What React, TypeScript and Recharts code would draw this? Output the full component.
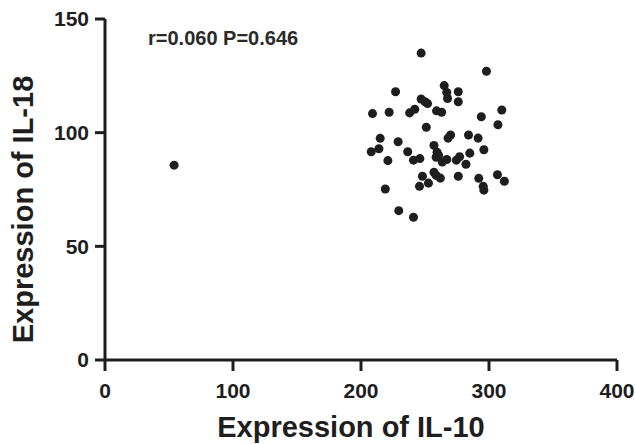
import React from "react";
import { ScatterChart, Scatter, XAxis, YAxis, Label } from "recharts";

const il10 = [
  54, 247, 298, 227, 265, 267, 267.6, 276, 276, 247, 250, 252, 209, 222, 238, 242, 259, 263, 310, 294,
  307, 251, 215, 268, 270, 284, 291.5, 229, 208, 214, 236.5, 257, 259.4, 260.6, 258.7, 296, 285, 221, 241, 246,
  263.5, 267, 274.5, 277, 282, 248, 257, 258.7, 262, 276, 252.7, 245.7, 292, 306.6, 312, 295.5, 296, 219, 229.5, 241,
];
const il18 = [
  85.7, 135, 127, 118, 120.7, 117.7, 115, 118, 113.6, 114.8, 113.6, 112.8, 108.4, 109, 108.7, 110.3, 109.6, 109, 110, 107,
  103.5, 102.4, 97.5, 97.6, 99, 99, 97.6, 96, 91.6, 92.9, 91.6, 94.4, 91.4, 90.1, 89.2, 92.5, 91, 87.7, 87.9, 88.6,
  87.1, 88.2, 87.9, 89.4, 86.1, 80.8, 82.6, 81.2, 80, 80.8, 77.8, 76.4, 79.9, 81.5, 78.6, 76.4, 74.7, 75.2, 65.7, 62.8,
];
const xTicks = [0, 100, 200, 300, 400];
const yTicks = [0, 50, 100, 150];
const statsText = "r=0.060 P=0.646";

const points = il10.map((x, i) => ({ x, y: il18[i] }));

const ink = "#1e1e1e";
const font = "'Liberation Sans', Arial, sans-serif";
const tickStyle = { fill: ink, fontSize: 21, fontWeight: 700, fontFamily: font };
const titleStyle = { fill: ink, fontSize: 29, fontWeight: 700, fontFamily: font };

// rotated y title, baseline sits near the left edge
function YTitle(props: any) {
  const vb = props.viewBox || { x: 0, y: 0, width: 0, height: 0 };
  const x = vb.x + 33;
  const y = vb.y + vb.height / 2 + 20;
  return (
    <text x={x} y={y} transform={`rotate(-90, ${x}, ${y})`} textAnchor="middle" style={titleStyle}>
      Expression of IL-18
    </text>
  );
}

export default function App() {
  return (
    <div style={{ position: "absolute", left: 0, top: 0, width: 635, height: 444, background: "#fff" }}>
      <ScatterChart width={635} height={444} margin={{ top: 19, right: 18, left: 0, bottom: 0 }}>
        <XAxis
          type="number"
          dataKey="x"
          domain={[0, 400]}
          ticks={xTicks}
          height={84}
          stroke={ink}
          strokeWidth={3}
          tickSize={11}
          tickMargin={12}
          tick={tickStyle}
          interval={0}
        >
          <Label value="Expression of IL-10" position="insideBottom" offset={7} dx={-10} style={titleStyle} />
        </XAxis>
        <YAxis
          type="number"
          dataKey="y"
          domain={[0, 150]}
          ticks={yTicks}
          width={105}
          stroke={ink}
          strokeWidth={3}
          tickSize={10}
          tickMargin={6}
          tick={tickStyle}
          interval={0}
        >
          <Label content={<YTitle />} />
        </YAxis>
        <Scatter data={points} fill={ink} shape="circle" isAnimationActive={false} r={3.5} />
      </ScatterChart>
      <div
        style={{
          position: "absolute",
          left: 148,
          top: 27,
          fontFamily: font,
          fontSize: 20,
          fontWeight: 700,
          color: "#2a2a2a",
          whiteSpace: "nowrap",
        }}
      >
        {statsText}
      </div>
    </div>
  );
}
